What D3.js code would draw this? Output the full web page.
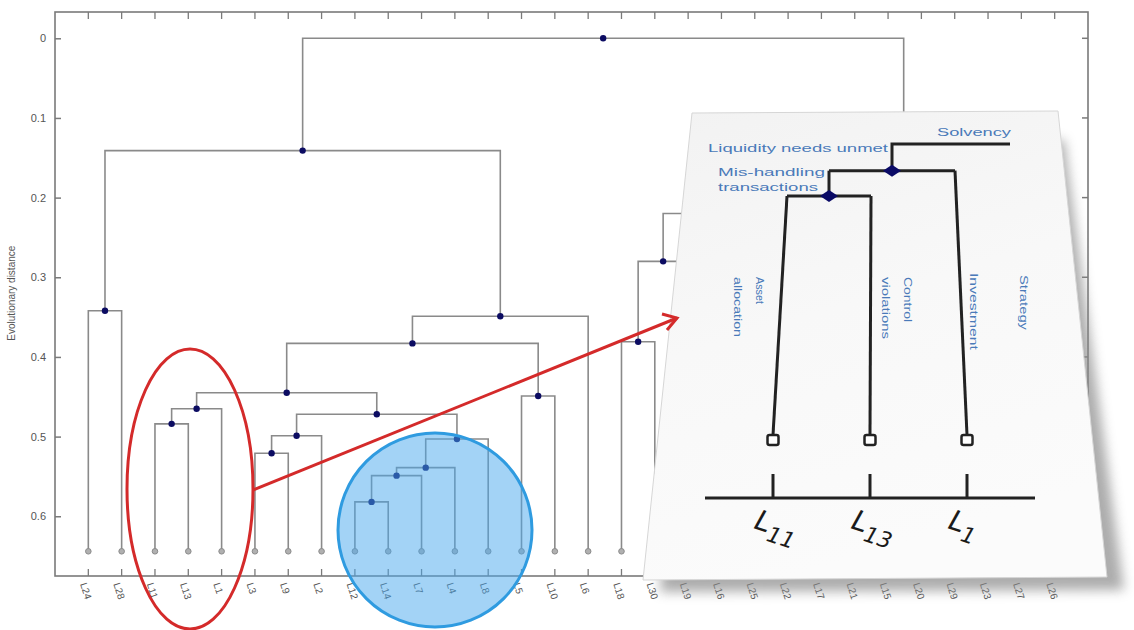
<!DOCTYPE html>
<html><head><meta charset="utf-8">
<script src="https://cdn.jsdelivr.net/npm/d3@7"></script>
<style>body{margin:0;background:#fff}svg{display:block}</style>
</head><body>
<svg id="chart" width="1134" height="630"></svg>
<script>
// ---------------- data ----------------
const leafLabels = ["L24","L28","L11","L13","L1","L3","L9","L2","L12","L14","L7","L4","L8","L5","L10","L6",
  "L18","L30","L19","L16","L25","L22","L17","L21","L15","L20","L29","L23","L27","L26"];
// linkage (MATLAB style): leaves 0..29, cluster 30+k is merge k
const mergeA      = [8, 30, 31, 32, 5, 34, 35, 2, 37, 38, 13, 39, 41, 0, 43, 16, 45, 19, 46, 21, 23, 25, 50, 49, 48, 27, 55, 54, 44];
const mergeB      = [9, 10, 11, 12, 6, 7, 33, 3, 4, 36, 14, 40, 15, 1, 42, 17, 18, 20, 47, 22, 24, 26, 51, 52, 53, 28, 29, 56, 57];
const mergeHeight = [0.582,0.549,0.539,0.503,0.521,0.499,0.472,0.484,0.465,0.445,0.449,0.383,0.349,0.342,0.141,
  0.381,0.280,0.42,0.220,0.40,0.44,0.41,0.33,0.27,0.18,0.45,0.36,0.15,0.0];
const leafLevel = 0.644;
const yTicks = [0,0.1,0.2,0.3,0.4,0.5,0.6];
const yTickLabels = ["0","0.1","0.2","0.3","0.4","0.5","0.6"];
const yTitle = "Evolutionary distance";

// inset (zoom on L11, L13, L1)
const insetLeaves = ["11","13","1"];
const insetNodeHeights = [0.484, 0.465];   // Mis-handling (L11+L13), Liquidity (+L1)
const insetParentHeight = 0.445;           // Solvency
const insetNodeLabels = ["Mis-handling\ntransactions","Liquidity needs unmet","Solvency"];
const insetCategoryLabels = [["Asset","allocation"],["Control","violations"],["Investment"],["Strategy"]];

// ---------------- layout ----------------
const svg = d3.select("#chart");
const L = 55, R = 1088, T = 12, B = 576;
const x = d3.scaleLinear().domain([-1, leafLabels.length]).range([L, R]);
const y = d3.scaleLinear().domain([-0.033, 0.675]).range([T, B]);
const gray = "#8a8a8a", axisGray = "#7a7a7a", navy = "#0c0c62";

// build tree
const n = leafLabels.length;
const nodes = leafLabels.map((lab, i) => ({name: lab, pos: i, h: leafLevel}));
mergeA.forEach((a, k) => {
  const c = [nodes[a], nodes[mergeB[k]]];
  nodes.push({children: c, h: mergeHeight[k], pos: (c[0].pos + c[1].pos) / 2});
});
const root = d3.hierarchy(nodes[nodes.length - 1]);
const internal = root.descendants().filter(d => d.children);

// frame
svg.append("rect").attr("x", L).attr("y", T).attr("width", R - L).attr("height", B - T)
  .attr("fill", "none").attr("stroke", axisGray).attr("stroke-width", 1.6);

// left axis
const yAxis = d3.axisLeft(y).tickValues(yTicks).tickFormat((d, i) => yTickLabels[i])
  .tickSizeInner(-6).tickSizeOuter(0).tickPadding(9);
const ga = svg.append("g").attr("transform", `translate(${L},0)`).call(yAxis);
ga.select(".domain").remove();
ga.selectAll("line").attr("stroke", axisGray).attr("stroke-width", 1.5);
ga.selectAll("text").attr("fill", "#555").attr("font-size", 11).attr("font-family", "Liberation Sans, Arial, sans-serif");
// right ticks
svg.append("g").selectAll("line").data(yTicks).join("line")
  .attr("x1", R).attr("x2", R - 6).attr("y1", d => y(d)).attr("y2", d => y(d))
  .attr("stroke", axisGray).attr("stroke-width", 1.5);
// top & bottom ticks
const idx = d3.range(n);
svg.append("g").selectAll("line").data(idx).join("line")
  .attr("x1", d => x(d)).attr("x2", d => x(d)).attr("y1", T).attr("y2", T + 7)
  .attr("stroke", axisGray).attr("stroke-width", 1.3);
svg.append("g").selectAll("line").data(idx).join("line")
  .attr("x1", d => x(d)).attr("x2", d => x(d)).attr("y1", B).attr("y2", B - 7)
  .attr("stroke", axisGray).attr("stroke-width", 1.3);
// bottom labels
svg.append("g").selectAll("text").data(leafLabels).join("text")
  .attr("transform", (d, i) => `translate(${x(i) - 5},${B + 7}) rotate(72)`)
  .attr("font-size", 10).attr("fill", "#555").attr("font-family", "Liberation Sans, Arial, sans-serif")
  .attr("dy", "0.35em").text(d => d);
// y title
svg.append("text").attr("transform", `translate(15,${y(0.32)}) rotate(-90)`)
  .attr("text-anchor", "middle").attr("font-size", 10).attr("fill", "#555")
  .attr("font-family", "Liberation Sans, Arial, sans-serif").text(yTitle);

// dendrogram links
svg.append("g").selectAll("path").data(internal).join("path")
  .attr("d", d => {
    const [a, b] = d.children;
    return `M${x(a.data.pos)},${y(a.data.h)}V${y(d.data.h)}H${x(b.data.pos)}V${y(b.data.h)}`;
  })
  .attr("fill", "none").attr("stroke", gray).attr("stroke-width", 1.6);
// leaf markers
svg.append("g").selectAll("circle").data(root.leaves()).join("circle")
  .attr("cx", d => x(d.data.pos)).attr("cy", d => y(d.data.h)).attr("r", 2.8)
  .attr("fill", "#b0b0b0").attr("stroke", "#8a8a8a").attr("stroke-width", 1);
// node dots
svg.append("g").selectAll("circle").data(internal).join("circle")
  .attr("cx", d => x(d.data.pos)).attr("cy", d => y(d.data.h)).attr("r", 3.2).attr("fill", navy);

// blue circle (translucent)
svg.append("ellipse").attr("cx", 435).attr("cy", 530).attr("rx", 97).attr("ry", 97)
  .attr("fill", "#48a8ee").attr("fill-opacity", 0.5).attr("stroke", "#2f9be0").attr("stroke-width", 3);
// red ellipse
svg.append("ellipse").attr("cx", 190).attr("cy", 489).attr("rx", 63).attr("ry", 140)
  .attr("fill", "none").attr("stroke", "#d42a2a").attr("stroke-width", 3);

// ---------------- inset paper ----------------
const defs = svg.append("defs");
defs.append("filter").attr("id", "blur").attr("x", "-10%").attr("y", "-10%").attr("width", "120%").attr("height", "120%")
  .append("feGaussianBlur").attr("stdDeviation", 6);
const pg = defs.append("linearGradient").attr("id", "paper").attr("x1", 0).attr("y1", 0).attr("x2", 0.3).attr("y2", 1);
pg.append("stop").attr("offset", 0).attr("stop-color", "#f2f2f2");
pg.append("stop").attr("offset", 0.5).attr("stop-color", "#f8f8f8");
pg.append("stop").attr("offset", 1).attr("stop-color", "#fbfbfb");
svg.append("polygon").attr("points", "700,150 1064,140 1124,590 660,592")
  .attr("fill", "#8a8a8a").attr("opacity", 0.7).attr("filter", "url(#blur)");
svg.append("polygon").attr("points", "692,113 1058,111 1107,577 643,580")
  .attr("fill", "url(#paper)").attr("stroke", "#d6d6d6").attr("stroke-width", 1);

const topX = d3.scaleLinear().domain([0, 2]).range([787, 955]);
const botX = d3.scaleLinear().domain([0, 2]).range([773, 967]);
const iy = d3.scaleLinear().domain([insetParentHeight, insetNodeHeights[0]]).range([144, 196]);
const leafY = 440, dark = "#222";
const ig = svg.append("g").attr("stroke", dark).attr("stroke-width", 3).attr("fill", "none");
const n1x = (topX(0) + topX(1)) / 2, n2x = (n1x + topX(2)) / 2;
// leaf verticals
insetLeaves.forEach((lab, i) => {
  const yTop = i < 2 ? iy(insetNodeHeights[0]) : iy(insetNodeHeights[1]);
  ig.append("line").attr("x1", topX(i)).attr("y1", yTop).attr("x2", botX(i)).attr("y2", leafY - 5);
});
ig.append("path").attr("d", `M${topX(0)},${iy(insetNodeHeights[0])}H${topX(1)}`);
ig.append("path").attr("d", `M${n1x},${iy(insetNodeHeights[0])}V${iy(insetNodeHeights[1])}`);
ig.append("path").attr("d", `M${n1x},${iy(insetNodeHeights[1])}H${topX(2)}`);
ig.append("path").attr("d", `M${n2x},${iy(insetNodeHeights[1])}V${iy(insetParentHeight)}H1010`);
// diamonds
[[n1x, iy(insetNodeHeights[0])], [n2x, iy(insetNodeHeights[1])]].forEach(([cx, cy]) => {
  svg.append("path").attr("d", `M${cx - 9},${cy}L${cx},${cy - 6}L${cx + 9},${cy}L${cx},${cy + 6}Z`).attr("fill", "#0a0a66");
});
// leaf squares, ticks, axis
insetLeaves.forEach((lab, i) => {
  svg.append("rect").attr("x", botX(i) - 5.5).attr("y", leafY - 5).attr("width", 11).attr("height", 10).attr("rx", 2)
    .attr("fill", "#fff").attr("stroke", dark).attr("stroke-width", 2.5);
  svg.append("line").attr("x1", botX(i)).attr("x2", botX(i)).attr("y1", 474).attr("y2", 498)
    .attr("stroke", dark).attr("stroke-width", 3);
  const t = svg.append("text").attr("transform", `translate(${botX(i) - 20},${528}) rotate(18)`)
    .attr("font-family", "DejaVu Sans, sans-serif").attr("font-style", "italic").attr("fill", "#1a1a1a");
  t.append("tspan").attr("font-size", 28).text("L");
  t.append("tspan").attr("font-size", 22).attr("dy", 8).text(lab);
});
svg.append("line").attr("x1", 705).attr("x2", 1035).attr("y1", 498).attr("y2", 498).attr("stroke", dark).attr("stroke-width", 3);

// inset texts
const blue = "#4a7ab9", ff = "Liberation Sans, Arial, sans-serif";
svg.append("text").attr("x", 937).attr("y", 136).attr("font-size", 11).attr("fill", blue).attr("font-family", ff)
  .attr("textLength", 74).attr("lengthAdjust", "spacingAndGlyphs").text(insetNodeLabels[2]);
svg.append("text").attr("x", 708).attr("y", 152).attr("font-size", 11).attr("fill", blue).attr("font-family", ff)
  .attr("textLength", 180).attr("lengthAdjust", "spacingAndGlyphs").text(insetNodeLabels[1]);
const mh = insetNodeLabels[0].split("\n");
svg.append("text").attr("x", 718).attr("y", 176).attr("font-size", 11).attr("fill", blue).attr("font-family", ff)
  .attr("textLength", 107).attr("lengthAdjust", "spacingAndGlyphs").text(mh[0]);
svg.append("text").attr("x", 718).attr("y", 191).attr("font-size", 11).attr("fill", blue).attr("font-family", ff)
  .attr("textLength", 100).attr("lengthAdjust", "spacingAndGlyphs").text(mh[1]);
// rotated category labels: layout [baseline x of first line, start y, lengths]
const catLayout = [
  {x: 756, y: 277, len: [27, 60]},
  {x: 904, y: 277, len: [45, 62]},
  {x: 970, y: 273, len: [77]},
  {x: 1020, y: 275, len: [55]}
];
insetCategoryLabels.forEach((lines, i) => {
  lines.forEach((s, j) => {
    svg.append("text").attr("transform", `translate(${catLayout[i].x - j * 22},${catLayout[i].y}) rotate(90)`)
      .attr("font-size", 11).attr("fill", blue).attr("font-family", ff)
      .attr("textLength", catLayout[i].len[j]).attr("lengthAdjust", "spacingAndGlyphs").text(s);
  });
});

// red arrow
svg.append("path").attr("d", "M253,490L677,318").attr("stroke", "#d42a2a").attr("stroke-width", 3).attr("fill", "none");
svg.append("path").attr("d", "M662,314L677,318L667,330").attr("stroke", "#d42a2a").attr("stroke-width", 3)
  .attr("fill", "none").attr("stroke-linejoin", "miter");
</script>
</body></html>
